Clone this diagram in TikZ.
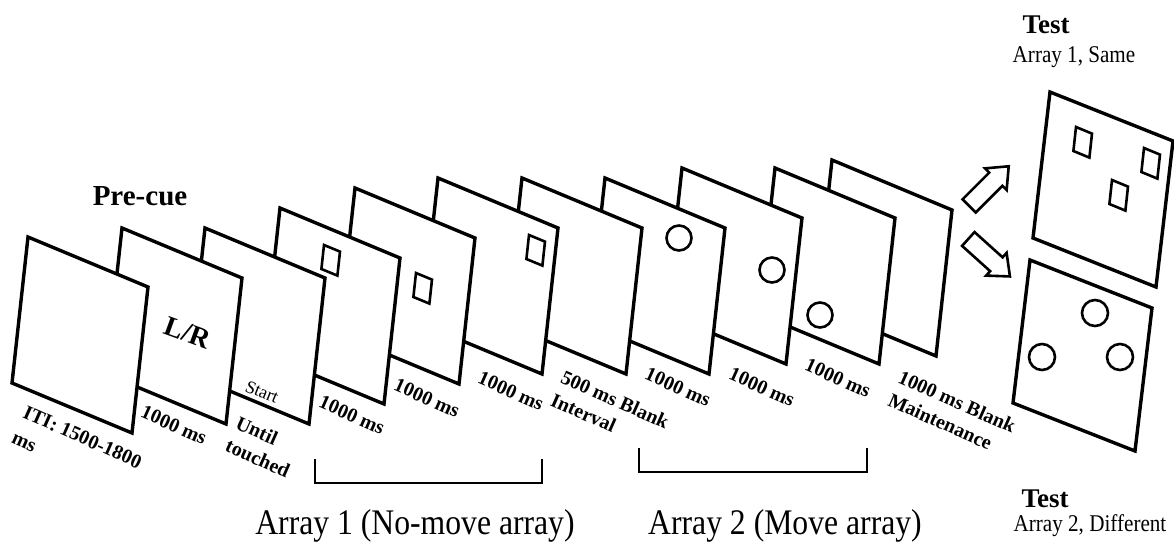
\documentclass[tikz,border=0pt]{standalone}
\usepackage{fontspec}
\setmainfont{Liberation Serif}
\newfontfamily\condfont[FakeStretch=0.88]{Liberation Serif}
\usetikzlibrary{shapes.arrows}
\newcommand\mypanel[2]{\path[panel] (#1,#2) -- ++(120,50) -- ++(-16,146) -- ++(-120,-50) -- cycle;}
\newcommand\mysq[2]{\draw[glyph] (#1,#2) -- ++(16,6.6) -- ++(-2.6,24) -- ++(-16,-6.6) -- cycle;}
\begin{document}
\begin{tikzpicture}[x=0.5pt,y=-0.5pt,
  panel/.style={draw=black, fill=white, line width=1.7pt, line join=miter},
  glyph/.style={draw=black, line width=1.3pt},
  lbl/.style={font=\fontsize{10}{12.5}\selectfont\bfseries, rotate=-24, align=left, inner sep=0pt},
  bracketline/.style={draw=black, line width=0.8pt},
  blockarrow/.style={single arrow, draw=black, fill=white, line width=1.3pt, minimum height=28pt, inner sep=4pt, single arrow head extend=3pt, single arrow tip angle=80, single arrow head indent=0pt},
  bigtxt/.style={font=\condfont\fontsize{18}{20}\selectfont, inner sep=0pt, anchor=base},
  testtxt/.style={font=\fontsize{13.5}{15}\selectfont\bfseries, inner sep=0pt, anchor=base},
  subtxt/.style={font=\condfont\fontsize{12}{14}\selectfont, inner sep=0pt, anchor=base},
]
\useasboundingbox (0,0) rectangle (1174,542);

% panels, back to front
\mypanel{832}{160}
\mypanel{775}{168}
\draw[glyph] (820,315) circle (12.5);
\mypanel{682}{168}
\draw[glyph] (772,270) circle (12.5);
\mypanel{605}{178}
\draw[glyph] (679,238) circle (12.5);
\mypanel{522}{178}
\mypanel{438}{178}
\mysq{529}{235}
\mypanel{355}{188}
\mysq{416}{273}
\mypanel{280}{208}
\mysq{324}{245}
\mypanel{205}{228}
\mypanel{122}{228}
\mypanel{28}{237}

% test panels
\path[panel] (1050,92) -- ++(123,49) -- ++(-17,146) -- ++(-123,-49) -- cycle;
\mysq{1076}{127}
\mysq{1144}{148}
\mysq{1112}{180}
\path[panel] (1030,260) -- ++(122,48) -- ++(-17,143) -- ++(-122,-48) -- cycle;
\draw[glyph] (1095,313) circle (13);
\draw[glyph] (1042,357) circle (13);
\draw[glyph] (1120,357) circle (13);

% block arrows
\node[blockarrow, rotate=45] (arrUp) at (985,190) {};
\node[blockarrow, rotate=-42] (arrDown) at (985,254) {};

% panel texts
\node[font=\fontsize{14}{16}\selectfont\bfseries, rotate=-20, inner sep=0pt] (lr) at (188,333) {L/R};
\node[font=\fontsize{9}{10}\selectfont, rotate=-22, inner sep=0pt] (start) at (262,392) {Start};
\node[font=\fontsize{14.5}{16}\selectfont\bfseries, inner sep=0pt, anchor=base] (precue) at (140,205) {Pre-cue};

% duration labels
\node[lbl, font=\fontsize{10}{14}\selectfont\bfseries] (l1) at (77,450) {ITI: 1500-1800\\ms};
\node[lbl] (l2) at (174,425) {1000 ms};
\node[lbl] (l3) at (263,447) {Until\\touched};
\node[lbl] (l4) at (352,415) {1000 ms};
\node[lbl] (l5) at (427,398) {1000 ms};
\node[lbl] (l6) at (511,391) {1000 ms};
\node[lbl] (l7) at (610,411) {500 ms Blank\\Interval};
\node[lbl] (l8) at (678,387) {1000 ms};
\node[lbl] (l9) at (762,387) {1000 ms};
\node[lbl] (l10) at (838,378) {1000 ms};
\node[lbl] (l11) at (952,413) {1000 ms Blank\\Maintenance};

% brackets
\draw[bracketline] (315,459) -- (315,483) -- (542,483) -- (542,459);
\draw[bracketline] (639,448) -- (639,472) -- (867,472) -- (867,448);

% captions
\node[bigtxt] (cap1) at (415,534) {Array 1 (No-move array)};
\node[bigtxt] (cap2) at (785,534) {Array 2 (Move array)};
\node[testtxt] (testA) at (1046,33) {Test};
\node[subtxt] (testAsub) at (1074,62) {Array 1, Same};
\node[testtxt] (testB) at (1045,507) {Test};
\node[subtxt] (testBsub) at (1090,531) {Array 2, Different};
\end{tikzpicture}
\end{document}
